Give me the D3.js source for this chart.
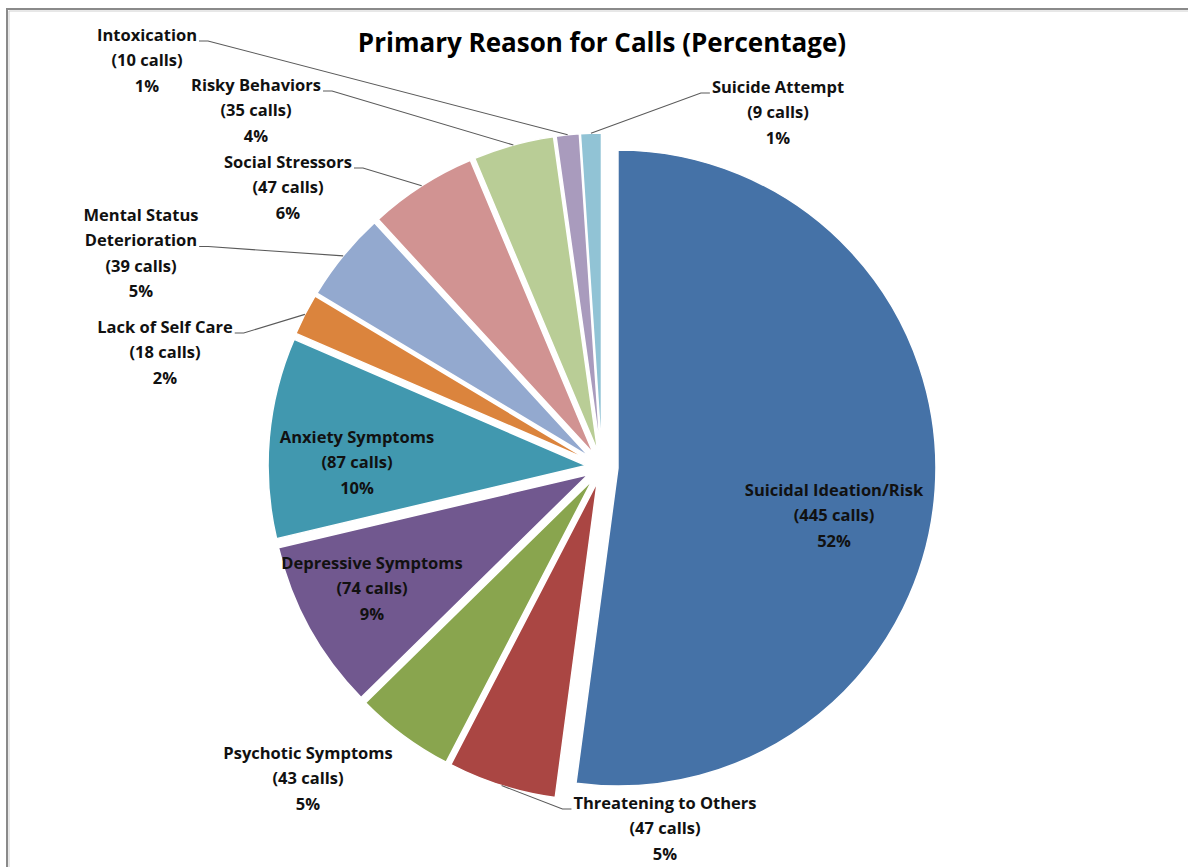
<!DOCTYPE html>
<html>
<head>
<meta charset="utf-8">
<script src="https://cdn.jsdelivr.net/npm/d3@7/dist/d3.min.js"></script>
<style>
  html, body { margin: 0; padding: 0; background: #ffffff; }
  svg { display: block; }
</style>
</head>
<body>
<svg id="chart" width="1188" height="867"></svg>
<script>
// ---- data ----
const categories = [
  "Suicidal Ideation/Risk", "Threatening to Others", "Psychotic Symptoms",
  "Depressive Symptoms", "Anxiety Symptoms", "Lack of Self Care",
  "Mental Status Deterioration", "Social Stressors", "Risky Behaviors",
  "Intoxication", "Suicide Attempt"
];
const calls = [445, 47, 43, 74, 87, 18, 39, 47, 35, 10, 9];
const percentLabels = ["52%", "5%", "5%", "9%", "10%", "2%", "5%", "6%", "4%", "1%", "1%"];
const title = "Primary Reason for Calls (Percentage)";

// ---- styles / layout ----
const colors = ["#4572A7", "#AA4643", "#89A54E", "#71588F", "#4198AF", "#DB843D",
                "#93A9CF", "#D19392", "#B9CD96", "#A99BBD", "#91C3D5"];
const W = 1188, H = 867;
const cx = 602, cy = 467, R = 318, explode = 16;
const FONT = "'Open Sans', Lato, sans-serif";
const lineH = 25.5;

// label layout: centre x, first line centre y, name lines, leader side
const labelLayout = [
  { x: 834, y: 490, name: ["Suicidal Ideation/Risk"], leader: null },
  { x: 665, y: 803, name: ["Threatening to Others"], leader: "left" },
  { x: 308, y: 753, name: ["Psychotic Symptoms"], leader: null },
  { x: 372, y: 563, name: ["Depressive Symptoms"], leader: null },
  { x: 357, y: 437, name: ["Anxiety Symptoms"], leader: null },
  { x: 165, y: 327, name: ["Lack of Self Care"], leader: "right" },
  { x: 141, y: 215, name: ["Mental Status", "Deterioration"], leader: "right", leaderLine: 1 },
  { x: 288, y: 162, name: ["Social Stressors"], leader: "right" },
  { x: 256, y: 85,  name: ["Risky Behaviors"], leader: "right" },
  { x: 147, y: 35,  name: ["Intoxication"], leader: "right" },
  { x: 778, y: 87,  name: ["Suicide Attempt"], leader: "left" }
];

const svg = d3.select("#chart");

// frame
svg.append("path")
  .attr("d", `M7,${H + 5} L7,9 L${W + 5},9`)
  .attr("fill", "none").attr("stroke", "#8a8a8a").attr("stroke-width", 2);
svg.append("path")
  .attr("d", `M9,${H + 5} L9,11 L${W + 5},11`)
  .attr("fill", "none").attr("stroke", "#d0d0d0").attr("stroke-width", 1);

// title
svg.append("text")
  .attr("x", cx).attr("y", 52)
  .attr("text-anchor", "middle")
  .attr("font-family", FONT).attr("font-weight", "bold")
  .attr("font-size", 26).attr("fill", "#000")
  .text(title);

const data = calls.map((v, i) => ({ name: categories[i], value: v, pct: percentLabels[i], i }));
const pie = d3.pie().sort(null).value(d => d.value);
const arcs = pie(data);
const arc = d3.arc().innerRadius(0).outerRadius(R);

function offset(a) {
  const m = (a.startAngle + a.endAngle) / 2;
  return [explode * Math.sin(m), -explode * Math.cos(m)];
}

const g = svg.append("g").attr("transform", `translate(${cx},${cy})`);
g.selectAll("path.slice")
  .data(arcs).enter().append("path")
  .attr("class", "slice")
  .attr("transform", d => { const o = offset(d); return `translate(${o[0]},${o[1]})`; })
  .attr("d", arc)
  .attr("fill", (d, i) => colors[i])
  .attr("stroke", "#fff").attr("stroke-width", 1.5).attr("stroke-linejoin", "round");

// labels
const labelG = svg.append("g");
arcs.forEach((a, i) => {
  const L = labelLayout[i];
  const lines = L.name.concat([`(${calls[i]} calls)`, percentLabels[i]]);
  const t = labelG.append("g");
  const texts = lines.map((s, k) => t.append("text")
    .attr("x", L.x).attr("y", L.y + k * lineH)
    .attr("dy", "0.35em")
    .attr("text-anchor", "middle")
    .attr("font-family", FONT).attr("font-weight", "bold")
    .attr("font-size", 16.5).attr("fill", "#111")
    .text(s));
  if (L.leader) {
    const k = L.leaderLine || 0;
    const w = texts[k].node().getComputedTextLength();
    const ly = L.y + k * lineH + 6;
    const m = (a.startAngle + a.endAngle) / 2;
    const o = offset(a);
    const px = cx + o[0] + R * Math.sin(m);
    const py = cy + o[1] - R * Math.cos(m);
    let x0, x1;
    if (L.leader === "right") { x0 = L.x + w / 2 + 2; x1 = x0 + 9; }
    else { x0 = L.x - w / 2 - 2; x1 = x0 - 9; }
    labelG.append("path")
      .attr("d", `M${x0},${ly} L${x1},${ly} L${px},${py}`)
      .attr("fill", "none").attr("stroke", "#5a5a5a").attr("stroke-width", 1.1);
  }
});
</script>
</body>
</html>
